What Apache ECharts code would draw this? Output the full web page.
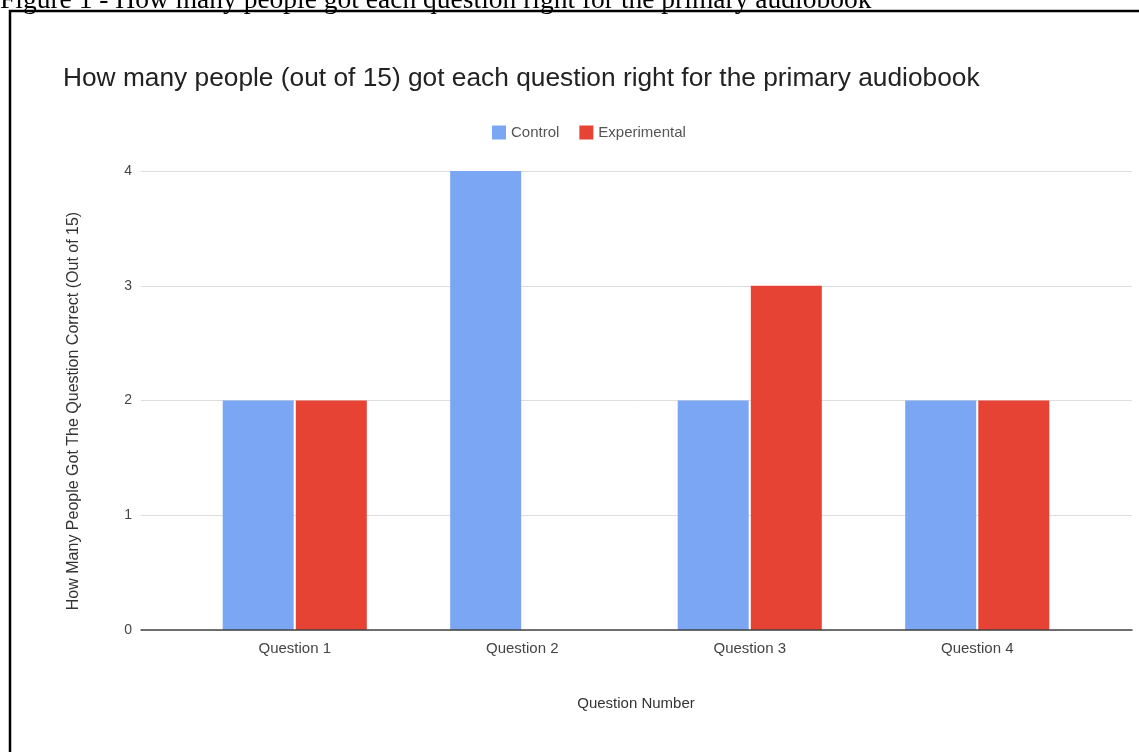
<!DOCTYPE html>
<html>
  <head>
    <meta charset="utf-8">
    <title>ECharts</title>
    <script src="https://cdn.jsdelivr.net/npm/echarts@6/dist/echarts.min.js"></script>
    <style>
      html, body { margin: 0; padding: 0; background: #fff; }
    </style>
  </head>
  <body>
    <div id="main" style="width: 1139px; height: 752px;"></div>
    <script>
      const questions = ['Question 1', 'Question 2', 'Question 3', 'Question 4']
      const controlValues = [2, 4, 2, 2]
      const experimentalValues = [2, 0, 3, 2]
      const yTicks = [0, 1, 2, 3, 4]

      const caption = 'Figure 1 - How many people got each question right for the primary audiobook'
      const chartTitle = 'How many people (out of 15) got each question right for the primary audiobook'

      const sans = 'Liberation Sans, Arial, sans-serif'
      const plotTop = 171
      const plotBottom = 752 - 630

      var myChart = echarts.init(document.getElementById('main'))
      var option = {
        animation: false,
        backgroundColor: '#fff',
        title: [
          {
            text: caption,
            left: 0,
            top: -13,
            padding: 0,
            textStyle: { fontFamily: 'Liberation Serif, Times New Roman, serif', fontSize: 27.5, fontWeight: 'normal', color: '#000' },
          },
          {
            text: chartTitle,
            left: 63,
            top: 66,
            padding: 0,
            textStyle: { fontFamily: sans, fontSize: 26.3, fontWeight: 'normal', color: '#222' },
          },
        ],
        // frame round the figure, runs off the right and bottom
        graphic: [
          {
            type: 'rect',
            shape: { x: 10, y: 11, width: 1200, height: 800 },
            style: { fill: 'none', stroke: '#000', lineWidth: 2.5 },
          },
        ],
        legend: {
          left: 487,
          top: 120,
          itemWidth: 14,
          itemHeight: 14,
          itemGap: 20,
          icon: 'rect',
          textStyle: { fontFamily: sans, fontSize: 15, color: '#555' },
          data: ['Control', 'Experimental'],
        },
        // grid 0 holds gridlines and y labels, grid 1 holds the bars (google pads the category band)
        grid: [
          { left: 141, right: 7, top: plotTop, bottom: plotBottom },
          { left: 181, right: 48, top: plotTop, bottom: plotBottom },
        ],
        xAxis: [
          {
            gridIndex: 0,
            type: 'category',
            data: questions,
            axisLine: { lineStyle: { color: '#444', width: 1.5 } },
            axisTick: { show: false },
            axisLabel: { show: false },
            z: 5,
          },
          {
            gridIndex: 1,
            type: 'category',
            data: questions,
            axisLine: { show: false },
            axisTick: { show: false },
            axisLabel: { margin: 11, fontFamily: sans, fontSize: 15, color: '#444' },
            name: 'Question Number',
            nameLocation: 'middle',
            nameGap: 66,
            nameTextStyle: { fontFamily: sans, fontSize: 15, color: '#333' },
          },
        ],
        yAxis: [
          {
            gridIndex: 0,
            type: 'value',
            min: yTicks[0],
            max: yTicks[yTicks.length - 1],
            interval: 1,
            axisLine: { show: false },
            axisTick: { show: false },
            axisLabel: { margin: 9, fontFamily: sans, fontSize: 14, color: '#444' },
            splitLine: { lineStyle: { color: '#ddd', width: 1 } },
            name: 'How Many People Got The Question Correct (Out of 15)',
            nameLocation: 'middle',
            nameGap: 59,
            nameTextStyle: { fontFamily: sans, fontSize: 16, color: '#333', padding: [0, 21, 0, 0] },
          },
          {
            gridIndex: 1,
            type: 'value',
            min: yTicks[0],
            max: yTicks[yTicks.length - 1],
            show: false,
            splitLine: { show: false },
          },
        ],
        series: [
          {
            name: 'Control',
            type: 'bar',
            xAxisIndex: 1,
            yAxisIndex: 1,
            barWidth: 71,
            barGap: '3%',
            itemStyle: { color: '#7aa6f3' },
            data: controlValues,
          },
          {
            name: 'Experimental',
            type: 'bar',
            xAxisIndex: 1,
            yAxisIndex: 1,
            barWidth: 71,
            barGap: '3%',
            itemStyle: { color: '#e64334' },
            data: experimentalValues,
          },
        ],
      }
      myChart.setOption(option)
    </script>
  </body>
</html>
